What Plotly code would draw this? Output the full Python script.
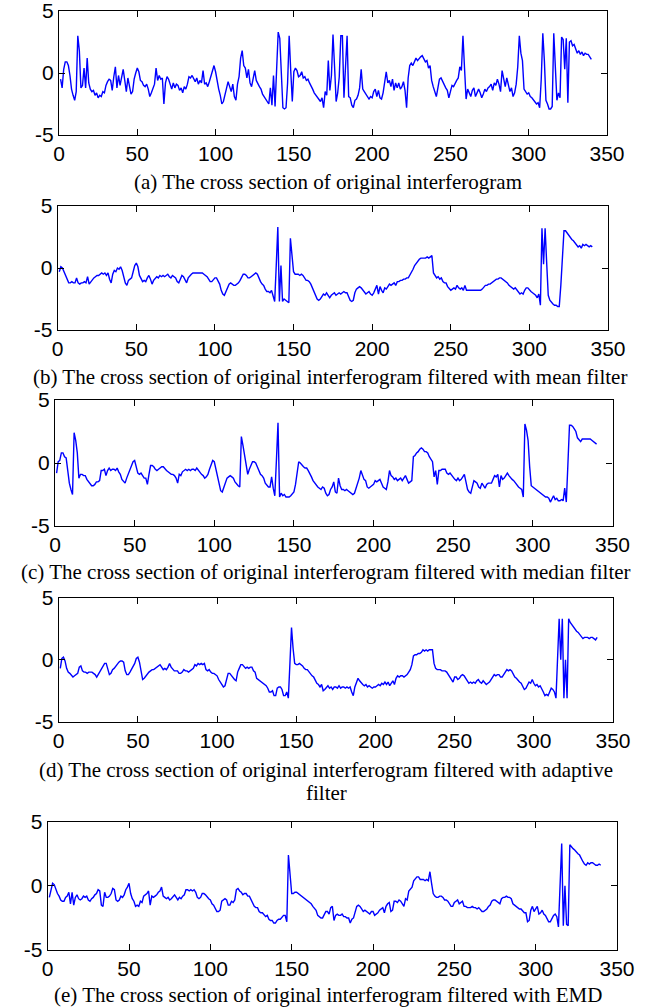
import plotly.graph_objects as go

# sample index along the cross section
samples = list(range(1, 341))

original = [
    -0.5, -1.2, 0.3, 0.9, 0.9, 0.6, -0.2, -1.3, -1.8, -2.2,
    -1.5, 3.0, 1.8, -1.2, -1.0, 0.4, -1.2, 1.2, -0.8, -1.3,
    -1.5, -1.4, -1.8, -1.6, -2.0, -1.8, -1.9, -1.5, -1.6, -1.0,
    -0.7, -0.5, -0.6, -1.4, -0.3, 0.5, -1.2, -0.2, -1.0, -0.3,
    0.3, -0.6, -1.5, -0.4, -1.0, -1.7, -1.5, -0.5, 0.0, 0.4,
    0.1, -0.6, -0.7, -1.0, -1.1, -0.9, -1.3, -1.9, -1.6, -1.2,
    -0.9, 0.4, -0.6, -0.2, -0.5, -0.4, -2.5, -0.8, -0.3, -0.5,
    -0.9, -1.3, -0.8, -1.2, -0.9, -1.0, -1.4, -1.2, -1.6, -1.1,
    -1.3, -0.9, -0.3, -0.4, -0.2, -0.5, -0.7, -0.4, -0.9, -0.6,
    -0.8, 0.2, -0.9, -0.8, -1.1, -0.7, -0.2, 0.2, 0.6, 0.1,
    -0.8, -1.3, -1.8, -2.5, -2.3, -1.8, -1.2, -0.7, -1.1, -1.5,
    -0.9, -1.9, -2.2, -0.9, -0.3, 1.2, 1.8, 0.6, 0.4, -0.4,
    0.3, -0.8, -1.1, -0.3, 0.2, -0.6, -0.9, -1.1, -1.3, -1.7,
    -1.9, -2.1, -2.3, -2.5, -1.2, -2.6, -0.2, -2.7, 0.3, 3.3,
    2.8, -0.5, -2.8, -2.9, -2.8, -0.8, 3.0, 0.2, -2.3, 0.1,
    0.4, 0.2, -0.3, -0.2, 0.1, -0.4, -0.3, -0.6, -0.5, -0.8,
    -1.0, -1.3, -1.6, -1.8, -1.9, -2.2, -2.3, -2.0, -2.8, -1.5,
    -1.8, 1.0, -1.4, -0.2, 3.1, 0.5, -2.3, -1.6, -0.3, 3.0,
    3.0, -2.0, 0.5, 3.0, -1.9, -2.0, -2.6, -2.8, -2.2, -2.1,
    -1.8, -1.2, 0.3, -1.3, -1.5, -1.7, -1.9, -2.1, -1.9, -2.0,
    -1.5, -1.3, -1.9, -1.4, -2.0, -2.1, -1.6, -0.6, 0.1, -0.8,
    -0.6, -1.1, -0.5, -1.4, -0.8, -1.2, -0.8, -1.3, -1.1, -0.7,
    -1.4, -2.8, -0.4, 0.6, 0.8, 0.6, 1.0, 1.2, 1.0, 1.2,
    1.3, 1.4, 1.2, 0.9, 1.0, 0.4, 0.6, -0.6, -1.1, -1.5,
    -1.9, -1.2, -0.5, -0.4, -0.7, -0.9, -1.2, -1.4, -2.0, -1.5,
    -1.0, -1.1, -0.8, -0.6, -0.4, 0.5, 0.2, 3.0, 0.4, -2.1,
    -1.3, -1.6, -1.9, -1.4, -1.2, -1.9, -1.5, -1.3, -1.6, -2.0,
    -1.7, -1.3, -1.5, -1.2, -1.1, -0.9, -1.4, -0.8, -1.0, -0.5,
    -0.9, -1.5, 0.2, -0.6, -1.1, -0.4, -1.1, -1.5, -1.2, -1.9,
    -1.6, -0.9, 0.5, 3.0, 1.6, 1.0, -1.3, -1.5, -1.7, -1.6,
    -1.9, -2.0, -2.2, -2.3, -2.5, -2.4, -2.8, -0.5, 3.2, 1.0,
    -2.2, -2.5, -2.9, -2.9, -2.7, 3.2, 0.2, -2.2, -1.6, -2.0,
    2.9, 2.7, 0.3, 2.8, -2.4, 2.5, 2.6, 2.2, 2.3, 1.9,
    1.6, 1.8, 1.5, 1.7, 1.4, 1.6, 1.5, 1.5, 1.3, 1.1,
]

mean_filtered = [
    -0.3, 0.1, 0.0, -0.3, -0.6, -0.9, -1.2, -1.2, -1.1, -1.2,
    -1.2, -0.8, -1.2, -1.3, -1.2, -1.2, -1.1, -1.2, -0.7, -1.3,
    -1.1, -0.9, -0.8, -0.7, -0.6, -0.6, -0.5, -0.4, -0.5, -0.4,
    -0.6, -0.4, -0.9, -1.2, -0.5, -0.2, -0.3, 0.0, -0.1, 0.1,
    -0.2, -0.8, -1.2, -1.4, -1.0, -0.9, -0.8, -0.3, 0.2, 0.4,
    0.1, -0.6, -0.9, -1.1, -1.0, -1.1, -0.8, -0.6, -0.9, -1.3,
    -1.0, -0.8, -0.7, -0.8, -0.6, -0.7, -0.6, -0.7, -0.6, -0.5,
    -0.7, -0.8, -0.6, -0.7, -0.8, -1.1, -1.2, -0.9, -0.6, -0.7,
    -1.0, -1.2, -0.8, -0.6, -0.5, -0.4, -0.4, -0.4, -0.4, -0.4,
    -0.4, -0.4, -0.5, -0.6, -0.7, -0.9, -1.1, -1.1, -0.9, -0.8,
    -0.8, -1.0, -1.3, -1.8, -2.1, -2.2, -1.9, -1.6, -1.3, -1.2,
    -1.3, -1.4, -1.4, -1.3, -1.2, -1.0, -0.7, -0.5, -0.5, -0.6,
    -0.8, -0.8, -0.7, -0.6, -0.5, -0.4, -0.5, -0.9, -1.1, -1.3,
    -1.4, -1.7, -1.9, -1.9, -2.0, -1.8, -2.2, -2.7, 0.2, 3.3,
    -2.7, 0.2, -2.7, -2.5, -2.6, -2.7, -2.8, 2.4, 1.0, -0.3,
    -0.5, -0.5, -0.5, -0.6, -0.5, -0.6, -0.8, -1.0, -1.0, -1.1,
    -1.3, -1.6, -1.9, -2.2, -2.5, -2.6, -2.5, -2.3, -2.1, -2.2,
    -2.0, -2.2, -2.4, -2.2, -2.1, -2.0, -2.2, -2.1, -2.0, -2.1,
    -2.0, -1.9, -2.0, -2.0, -2.3, -2.6, -2.7, -2.6, -2.0, -1.7,
    -1.6, -1.5, -1.6, -1.8, -2.0, -2.1, -2.0, -1.9, -2.1, -2.2,
    -2.0, -1.6, -1.4, -2.1, -1.5, -1.8, -2.0, -1.6, -1.7, -1.5,
    -1.3, -1.4, -1.3, -1.2, -1.4, -1.1, -1.1, -1.0, -1.0, -0.9,
    -0.9, -0.8, -0.8, -0.6, -0.4, -0.1, 0.2, 0.4, 0.6, 0.7,
    0.8, 0.8, 0.8, 0.8, 0.9, 0.8, 0.9, 1.0, -0.4, -0.6,
    -0.8, -0.7, -0.9, -0.8, -1.1, -1.2, -1.2, -1.5, -1.7, -1.8,
    -1.7, -1.6, -1.7, -1.4, -1.6, -1.7, -1.6, -1.8, -1.4, -1.8,
    -1.8, -1.8, -1.8, -1.8, -1.8, -1.8, -1.8, -1.8, -1.8, -1.7,
    -1.5, -1.4, -1.4, -1.3, -1.3, -1.2, -1.1, -1.0, -0.9, -0.9,
    -0.8, -0.8, -0.9, -1.0, -1.1, -1.2, -1.4, -1.5, -1.6, -1.7,
    -1.6, -1.8, -1.9, -2.1, -2.0, -2.1, -1.8, -1.6, -1.6, -1.8,
    -1.9, -2.0, -2.1, -2.2, -2.4, -2.1, -3.0, 3.2, 0.3, 3.2,
    0.4, -2.2, -2.6, -2.8, -2.9, -3.0, -3.0, -3.1, -3.1, -1.4,
    1.4, 3.0, 3.0, 2.8, 2.6, 2.5, 2.3, 2.2, 2.0, 1.8,
    1.7, 1.8, 1.6, 1.9, 1.8, 1.9, 1.8, 1.7, 1.8, 1.7,
]

median_filtered = [
    -0.8, 0.1, 0.2, 0.8, 0.8, 0.5, 0.4, -0.6, -1.6, -2.1,
    -2.5, 2.4, 1.8, 0.8, -1.2, -0.9, -0.9, -1.0, -1.0, -1.3,
    -1.5, -1.6, -1.8, -1.8, -1.7, -1.5, -1.5, -1.4, -0.6, -0.6,
    -0.5, -1.0, -0.6, -0.4, -0.6, -0.5, -0.5, -0.6, -0.4, -0.7,
    -0.9, -1.3, -1.5, -1.6, -1.2, -0.9, -0.5, -0.2, 0.1, 0.2,
    -0.3, -0.8, -0.9, -0.8, -1.0, -1.2, -1.2, -1.7, -0.9, -0.2,
    -0.2, -0.3, -0.5, -0.6, -0.5, -0.4, -0.3, -0.3, -0.5, -0.6,
    -0.7, -0.8, -0.9, -0.9, -1.0, -1.2, -1.6, -0.9, -1.0, -0.7,
    -0.6, -0.5, -0.6, -0.5, -0.6, -0.5, -0.5, -0.6, -0.4, -0.6,
    -0.8, -0.9, -1.0, -1.2, -1.1, -0.9, -0.5, -0.1, 0.2, 0.1,
    -0.5, -1.0, -1.7, -2.2, -2.3, -1.9, -1.5, -1.2, -1.1, -1.0,
    -1.1, -1.2, -1.5, -1.7, -1.8, -1.9, 2.1, 1.4, 0.6, -0.3,
    -0.9, -0.5, -0.2, 0.1, 0.1, 0.0, -0.3, -0.6, -0.9, -1.0,
    -1.2, -1.6, -1.8, -1.9, -1.9, -1.1, -2.0, -2.6, 0.2, 3.2,
    -2.7, -2.4, -2.6, -2.5, -2.7, -2.7, -2.7, -2.6, -2.4, -2.3,
    -1.7, -0.8, 0.1, 0.0, -0.2, -0.3, -0.4, -0.4, -0.6, -0.8,
    -1.1, -1.4, -1.6, -1.8, -1.9, -2.0, -2.1, -1.9, -2.0, -2.4,
    -2.6, -2.5, -2.1, -1.9, -1.5, -2.3, -2.4, -1.2, -1.8, -2.1,
    -2.1, -2.2, -2.1, -2.2, -2.3, -2.4, -2.5, -2.4, -2.0, -1.7,
    -1.2, -0.6, -1.0, -1.3, -1.4, -1.9, -2.0, -1.9, -1.8, -1.7,
    -1.4, -1.5, -1.4, -1.3, -1.6, -1.9, -2.0, -2.1, -1.5, -0.6,
    -1.0, -1.1, -1.3, -1.2, -1.4, -1.3, -1.2, -1.4, -1.2, -1.0,
    -1.3, -1.6, -1.5, -1.4, 0.5, 0.6, 0.8, 0.9, 1.1, 1.2,
    1.1, 0.9, 0.9, 0.8, 0.5, 0.3, 0.1, -1.1, -0.6, -1.7,
    -0.6, -0.6, -0.5, -0.5, -0.5, -0.8, -0.9, -0.8, -1.0, -1.2,
    -1.3, -1.4, -1.2, -1.4, -1.3, -1.1, -0.9, -1.5, -2.1, -2.3,
    -2.4, -1.9, -1.4, -1.5, -1.6, -1.9, -2.0, -1.6, -1.8, -2.0,
    -1.7, -1.6, -1.6, -1.6, -1.3, -1.0, -1.1, -0.9, -1.9, -1.0,
    -1.3, -1.2, -1.0, -0.8, -1.0, -1.2, -1.3, -1.4, -1.6, -1.7,
    -1.9, -2.0, -2.1, -2.7, 3.1, 2.6, 1.8, -0.3, -1.8, -1.9,
    -2.0, -2.1, -2.2, -2.3, -2.4, -2.5, -2.6, -2.7, -2.7, -2.8,
    -3.1, -2.8, -2.6, -2.9, -2.8, -3.0, -3.0, -2.9, -3.0, -2.0,
    -3.1, -0.1, 3.0, 3.0, 2.9, 2.7, 2.5, 2.0, 1.8, 1.7,
    1.9, 1.9, 1.9, 1.9, 1.9, 1.9, 1.8, 1.7, 1.6, 1.5,
]

adaptive_filtered = [
    -0.7, 0.1, 0.2, -0.1, -0.7, -1.0, -1.1, -1.3, -1.4, -1.3,
    -1.2, -1.1, -0.6, -0.5, -0.9, -1.0, -1.0, -1.1, -1.0, -1.0,
    -1.0, -1.1, -1.2, -1.4, -1.2, -1.0, -0.8, -0.6, -0.3, -0.3,
    -0.8, -1.2, -1.1, -0.8, -0.7, -0.5, -0.4, -0.2, -0.1, -0.1,
    -0.2, -0.9, -1.2, -1.2, -1.0, -0.8, -0.5, -0.3, 0.1, 0.2,
    -0.2, -0.8, -1.6, -1.5, -1.3, -1.1, -1.0, -0.9, -0.8, -0.8,
    -0.7, -0.6, -0.5, -0.4, -0.6, -0.8, -0.7, -0.8, -0.6, -0.3,
    -0.6, -0.8, -0.9, -0.9, -0.9, -1.1, -1.1, -1.0, -0.8, -0.9,
    -0.9, -1.0, -0.9, -0.8, -0.7, -0.4, -0.5, -0.3, -0.4, -0.3,
    -0.4, -0.3, -0.8, -0.9, -0.8, -1.0, -1.1, -1.1, -1.2, -1.3,
    -1.6, -1.8, -2.0, -2.2, -2.1, -1.6, -1.1, -1.1, -1.3, -1.4,
    -1.6, -1.7, -1.0, -0.7, -0.4, -0.4, -0.6, -0.7, -0.6, -0.7,
    -0.6, -0.6, -0.9, -1.0, -1.5, -1.6, -1.7, -1.8, -1.9, -2.0,
    -2.1, -2.3, -2.6, -2.6, -2.5, -2.9, -2.9, -2.3, -2.2, -2.2,
    -2.4, -2.9, -2.9, -2.6, -3.1, -0.3, 2.6, 0.9, -0.3, -0.4,
    -0.4, -0.3, -0.4, -0.5, -0.7, -0.8, -0.8, -1.0, -1.2, -1.3,
    -1.4, -1.7, -1.9, -2.0, -2.2, -2.0, -2.5, -2.4, -2.2, -2.1,
    -2.3, -2.2, -2.4, -2.2, -2.2, -2.3, -2.1, -2.3, -2.2, -2.2,
    -2.3, -2.2, -2.3, -2.2, -2.6, -2.9, -2.2, -1.8, -1.5, -1.7,
    -1.9, -2.0, -2.1, -2.0, -2.2, -2.1, -2.2, -2.3, -2.2, -2.2,
    -2.1, -2.0, -2.1, -1.9, -2.0, -1.8, -2.0, -1.8, -2.1, -1.9,
    -1.7, -2.0, -1.5, -1.3, -1.4, -1.3, -1.3, -1.4, -1.3, -1.2,
    -1.0, -0.8, -0.4, 0.3, 0.4, 0.4, 0.5, 0.5, 0.6, 0.8,
    0.7, 0.8, 0.7, 0.8, 0.8, 0.8, -0.3, -0.7, -0.8, -0.8,
    -0.8, -0.9, -0.9, -0.9, -1.0, -1.2, -1.4, -1.6, -1.8, -1.4,
    -1.4, -1.6, -1.5, -1.3, -1.2, -1.3, -1.5, -1.8, -1.9, -1.8,
    -1.9, -1.8, -1.9, -1.7, -1.6, -1.8, -1.9, -1.7, -1.9, -2.0,
    -1.9, -1.8, -1.6, -1.4, -1.2, -1.3, -1.2, -1.2, -1.4, -1.4,
    -1.2, -0.9, -0.8, -0.9, -0.8, -0.9, -1.2, -1.4, -1.5, -1.7,
    -1.8, -1.9, -2.1, -2.4, -2.3, -2.1, -1.8, -1.9, -1.6, -1.9,
    -2.1, -2.0, -2.2, -2.1, -2.3, -2.6, -2.9, -2.8, -2.9, -2.6,
    -2.3, -2.4, -2.6, -3.1, 0.0, 3.3, 0.0, 3.3, -3.1, 0.0,
    -3.1, 3.3, 3.0, 2.8, 2.7, 2.5, 2.3, 2.2, 2.0, 1.9,
    1.7, 1.8, 1.8, 1.8, 1.7, 1.8, 1.8, 1.7, 1.6, 1.8,
]

emd_filtered = [
    -0.9, -0.2, 0.2, 0.1, -0.3, -0.6, -0.8, -1.1, -1.2, -1.2,
    -0.9, -0.8, -0.5, -1.4, -0.5, -1.5, -0.9, -0.7, -1.0, -1.1,
    -1.0, -0.8, -0.9, -0.8, -1.1, -1.2, -1.0, -0.9, -0.7, -0.6,
    -0.3, -0.4, -1.5, -1.6, -0.5, -0.9, -0.9, -0.8, -0.6, -0.2,
    -0.3, -1.1, -1.2, -1.1, -0.8, -0.9, -0.7, -0.3, -0.1, 0.2,
    -0.6, -1.0, -1.2, -1.6, -1.5, -1.6, -1.2, -1.3, -0.8, -0.7,
    -0.6, -0.4, -1.5, -0.8, -0.9, -0.8, -0.7, -0.5, -0.4, -0.1,
    -0.8, -0.9, -1.0, -0.9, -1.1, -1.0, -0.8, -0.7, -0.9, -1.1,
    -0.9, -1.0, -0.8, -0.7, -0.3, -0.3, -0.4, -0.3, -0.4, -0.3,
    -0.5, -0.9, -1.0, -0.9, -0.6, -0.6, -0.7, -0.9, -1.0, -1.1,
    -1.4, -1.5, -1.7, -2.0, -2.0, -1.9, -1.2, -1.1, -1.0, -1.1,
    -1.5, -1.5, -1.2, -1.3, -1.1, -0.3, -0.2, -0.4, -0.5, -0.7,
    -0.6, -0.6, -0.8, -0.8, -1.1, -1.4, -1.6, -1.7, -1.7, -2.0,
    -2.1, -2.1, -2.3, -2.4, -2.3, -2.6, -2.7, -2.7, -2.9, -2.9,
    -2.7, -2.6, -2.6, -2.4, -2.3, -2.3, -2.8, 2.4, 1.0, -0.6,
    -0.6, -0.5, -0.5, -0.6, -0.7, -0.8, -0.9, -1.0, -1.1, -1.2,
    -1.3, -1.4, -1.6, -1.8, -1.9, -2.3, -2.4, -2.5, -2.5, -2.3,
    -2.0, -2.0, -2.2, -1.7, -1.6, -2.7, -2.3, -2.2, -2.3, -2.3,
    -2.2, -2.4, -2.4, -2.5, -2.5, -2.9, -2.6, -2.5, -2.0, -1.6,
    -1.5, -1.6, -1.8, -2.0, -1.9, -2.0, -2.1, -2.2, -2.0, -2.0,
    -2.3, -2.2, -2.1, -1.9, -1.8, -1.7, -2.1, -1.6, -1.4, -1.3,
    -2.0, -1.9, -1.2, -1.2, -1.3, -1.1, -1.2, -1.4, -1.6, -1.0,
    -1.1, -0.4, -0.2, -0.1, 0.4, 0.6, 0.7, 0.7, 0.5, 0.5,
    0.5, 0.4, 0.5, 0.4, 1.1, 0.2, -0.6, -0.8, -0.9, -0.9,
    -0.8, -0.8, -0.9, -1.1, -1.1, -1.2, -1.4, -1.6, -1.6, -1.3,
    -1.2, -1.1, -1.4, -1.3, -1.2, -1.6, -1.6, -1.7, -1.7, -1.7,
    -1.6, -1.7, -1.7, -1.8, -1.7, -1.9, -2.0, -2.0, -1.9, -1.8,
    -1.6, -1.5, -1.2, -1.1, -1.1, -1.2, -1.3, -1.4, -1.0, -0.9,
    -0.9, -0.8, -0.9, -0.9, -1.0, -1.4, -1.5, -1.6, -1.7, -1.8,
    -1.8, -2.0, -2.1, -2.1, -2.8, -2.7, -1.9, -1.6, -2.0, -1.8,
    -1.6, -2.2, -2.1, -1.9, -2.2, -2.3, -2.6, -2.8, -2.8, -2.5,
    -2.3, -2.2, -2.4, -3.2, 0.0, 3.3, -3.1, 0.0, -3.0, -3.1,
    3.2, 3.0, 2.9, 2.8, 2.6, 2.5, 2.4, 2.1, 1.9, 1.7,
    1.6, 1.8, 1.7, 1.8, 1.8, 1.7, 1.6, 1.6, 1.7, 1.6,
]

series = [original, mean_filtered, median_filtered, adaptive_filtered, emd_filtered]

x_ticks = [0, 50, 100, 150, 200, 250, 300, 350]
y_ticks = [-5, 0, 5]
y_tick_text = ["-5", "0", "5"]

captions = [
    ["(a) The cross section of original interferogram"],
    ["(b) The cross section of original interferogram filtered with mean filter"],
    ["(c) The cross section of original interferogram filtered with median filter"],
    ["(d) The cross section of original interferogram filtered with adaptive", "filter"],
    ["(e) The cross section of original interferogram filtered with EMD"],
]

W, H = 648, 1007

# panel boxes in pixels: left, right, top, bottom
boxes = [
    (59.0, 607.0, 11.0, 135.0),
    (57.7, 608.0, 206.0, 330.0),
    (55.0, 612.5, 400.0, 526.0),
    (58.7, 613.0, 597.7, 721.7),
    (47.7, 617.0, 821.7, 950.0),
]
# caption line centres in pixels: x, list of y
caption_pos = [
    (328, [182]),
    (329.5, [377]),
    (326, [572]),
    (326, [770, 793]),
    (327.5, [995]),
]

fig = go.Figure()
layout = dict(
    template="none",
    width=W, height=H, autosize=False,
    margin=dict(l=0, r=0, t=0, b=0, pad=0),
    paper_bgcolor="white", plot_bgcolor="white",
    showlegend=False,
    annotations=[],
)

tick_font = dict(family="Liberation Sans, Arial, sans-serif", size=21, color="black")
cap_font = dict(family="Liberation Serif, Times New Roman, serif", size=21, color="black")

for i, (vals, box) in enumerate(zip(series, boxes)):
    n = "" if i == 0 else str(i + 1)
    l, r, t, b = box
    fig.add_trace(go.Scatter(
        x=samples, y=vals, mode="lines",
        line=dict(color="#0000ff", width=1.4),
        xaxis="x" + n, yaxis="y" + n, hoverinfo="skip",
    ))
    common = dict(
        automargin=False, ticklabeloverflow="allow",
        ticks="inside", ticklen=6, tickwidth=1, tickcolor="black",
        showline=True, linecolor="black", linewidth=1.2, mirror="ticks",
        showgrid=False, zeroline=False, tickfont=tick_font, fixedrange=True,
    )
    layout["xaxis" + n] = dict(
        domain=[l / W, r / W], anchor="y" + n, range=[0, 350],
        tickmode="array", tickvals=x_ticks, **common,
    )
    layout["yaxis" + n] = dict(
        domain=[1 - b / H, 1 - t / H], anchor="x" + n, range=[-5, 5],
        tickmode="array", tickvals=y_ticks, ticktext=y_tick_text, **common,
    )
    cx, cys = caption_pos[i]
    for line_text, cy in zip(captions[i], cys):
        layout["annotations"].append(dict(
            text=line_text, xref="paper", yref="paper",
            x=cx / W, y=1 - cy / H, xanchor="center", yanchor="middle",
            showarrow=False, font=cap_font,
        ))

fig.update_layout(**layout)
fig.write_html("out.html")
